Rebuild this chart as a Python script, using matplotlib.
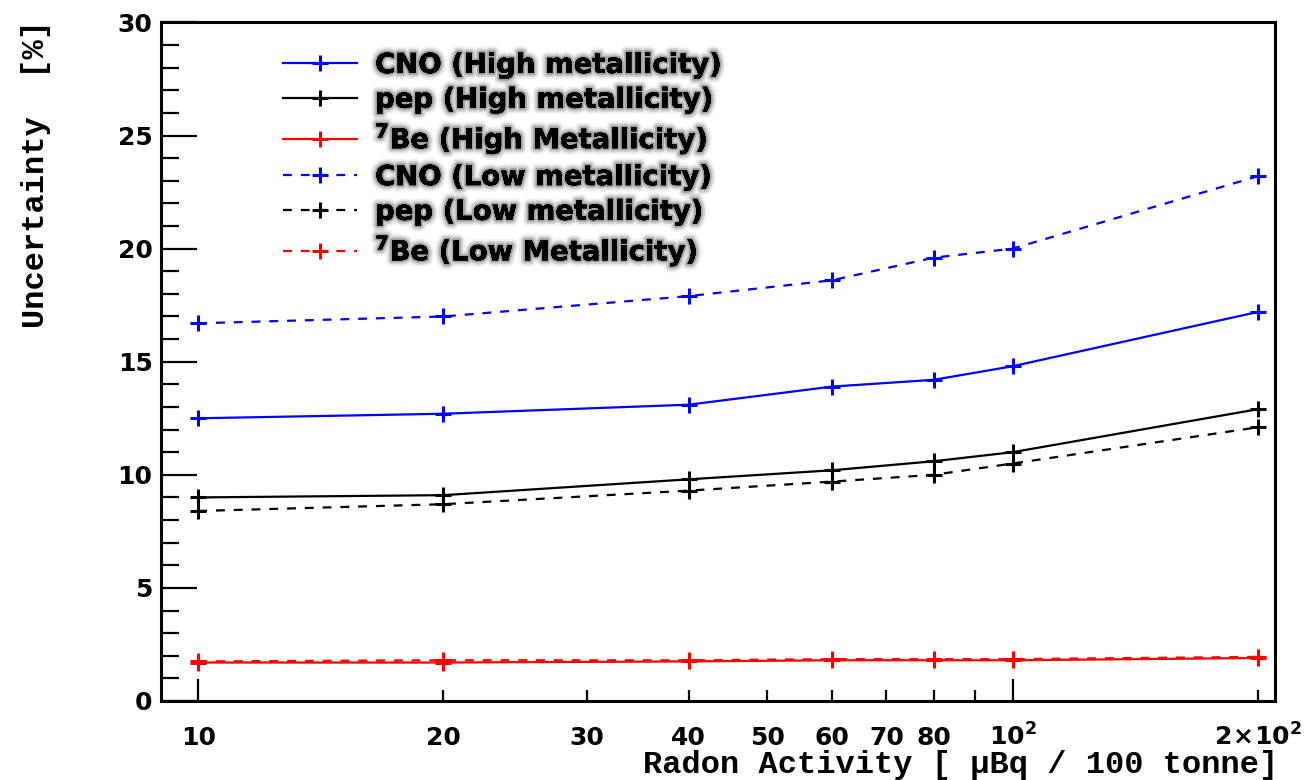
import matplotlib
matplotlib.use("Agg")
import matplotlib.pyplot as plt
import matplotlib.patheffects as pe
from matplotlib.ticker import FixedLocator, FixedFormatter

plt.rcParams['mathtext.fontset'] = 'custom'
plt.rcParams['mathtext.rm'] = 'DejaVu Sans:bold'
plt.rcParams['mathtext.it'] = 'DejaVu Sans:bold'
plt.rcParams['mathtext.bf'] = 'DejaVu Sans:bold'
plt.rcParams['mathtext.sf'] = 'DejaVu Sans:bold'

# Radon activity [uBq / 100 t]
radon = [10, 20, 40, 60, 80, 100, 200]

# Uncertainty [%]
cno_high = [12.5, 12.7, 13.1, 13.9, 14.2, 14.8, 17.2]
pep_high = [9.0, 9.1, 9.8, 10.2, 10.6, 11.0, 12.9]
be7_high = [1.7, 1.7, 1.75, 1.8, 1.8, 1.8, 1.9]
cno_low = [16.7, 17.0, 17.9, 18.6, 19.6, 20.0, 23.2]
pep_low = [8.4, 8.7, 9.3, 9.7, 10.0, 10.5, 12.1]
be7_low = [1.75, 1.8, 1.8, 1.85, 1.85, 1.85, 1.95]

labels = ["CNO (High metallicity)", "pep (High metallicity)",
          r"$^{7}$Be (High Metallicity)", "CNO (Low metallicity)",
          "pep (Low metallicity)", r"$^{7}$Be (Low Metallicity)"]

xtick_major = [10, 100]
xtick_major_labels = ["10", r"$10^{2}$"]
xtick_minor = [20, 30, 40, 50, 60, 70, 80, 90, 200]
xtick_minor_labels = ["20", "30", "40", "50", "60", "70", "80", "",
                      r"$2\!\times\!10^{2}$"]

fig = plt.figure(figsize=(13.15, 7.8), dpi=100)
ax = fig.add_axes([0.1224, 0.1013, 0.8472, 0.8699])

dash = (0, (4, 4))
series = [
    (cno_high, "blue", "-"),
    (pep_high, "black", "-"),
    (be7_high, "red", "-"),
    (cno_low, "blue", dash),
    (pep_low, "black", dash),
    (be7_low, "red", dash),
]
handles = []
for (vals, col, ls), lab in zip(series, labels):
    h, = ax.plot(radon, vals, color=col, linestyle=ls, linewidth=1.6,
                 marker="+", markersize=12, markeredgewidth=2.2, label=lab)
    handles.append(h)

ax.set_xscale("log")
ax.set_xlim(9, 210)
ax.set_ylim(0, 30)

for s in ax.spines.values():
    s.set_linewidth(2.2)

# y axis ticks
ax.set_yticks([0, 5, 10, 15, 20, 25, 30])
ax.set_yticks([v for v in range(1, 30) if v % 5 != 0], minor=True)
ax.tick_params(axis="y", which="major", direction="in", length=26, width=1.6,
               left=True, right=False, labelsize=18, pad=6)
ax.tick_params(axis="y", which="minor", direction="in", length=13, width=1.6,
               left=True, right=False)

# x axis ticks (log)
ax.xaxis.set_major_locator(FixedLocator(xtick_major))
ax.xaxis.set_minor_locator(FixedLocator(xtick_minor))
ax.xaxis.set_major_formatter(FixedFormatter(xtick_major_labels))
ax.xaxis.set_minor_formatter(FixedFormatter(xtick_minor_labels))
ax.tick_params(axis="x", which="major", direction="in", length=16, width=1.6,
               bottom=True, top=False, labelsize=18, pad=32)
ax.tick_params(axis="x", which="minor", direction="in", length=8, width=1.6,
               bottom=True, top=False, labelsize=18, pad=32)

fig.canvas.draw()
for lbl in ax.get_yticklabels():
    lbl.set_fontfamily("DejaVu Sans")
    lbl.set_fontweight("bold")
    lbl.set_fontsize(18)
for lbl in ax.get_xticklabels(which="both"):
    lbl.set_fontfamily("DejaVu Sans")
    lbl.set_fontweight("bold")
    lbl.set_fontsize(18)
    lbl.set_verticalalignment("baseline")

fig.text(1278 / 1315, 1 - 773 / 780, "Radon Activity [ μBq / 100 tonne]",
         family="Liberation Mono", weight="bold", fontsize=23,
         ha="right", va="baseline")
fig.text(36 / 1315, 1 - 20 / 780, "Uncertainty  [%]",
         family="Liberation Mono", weight="bold", fontsize=23,
         rotation=90, ha="center", va="top")

leg = ax.legend(handles=handles, loc="upper left", bbox_to_anchor=(0.1095, 0.958),
                frameon=False, numpoints=1, handlelength=2.7, handletextpad=0.65,
                labelspacing=0.245, borderpad=0, borderaxespad=0,
                prop={"family": "DejaVu Sans", "weight": "bold", "size": 19.8})
shadow = [pe.withStroke(linewidth=9, foreground=(0, 0, 0, 0.06)),
          pe.withStroke(linewidth=6, foreground=(0, 0, 0, 0.12)),
          pe.withStroke(linewidth=3, foreground=(0, 0, 0, 0.22)),
          pe.Normal()]
for t in leg.get_texts():
    t.set_path_effects(shadow)

fig.savefig("out.png", dpi=100)
